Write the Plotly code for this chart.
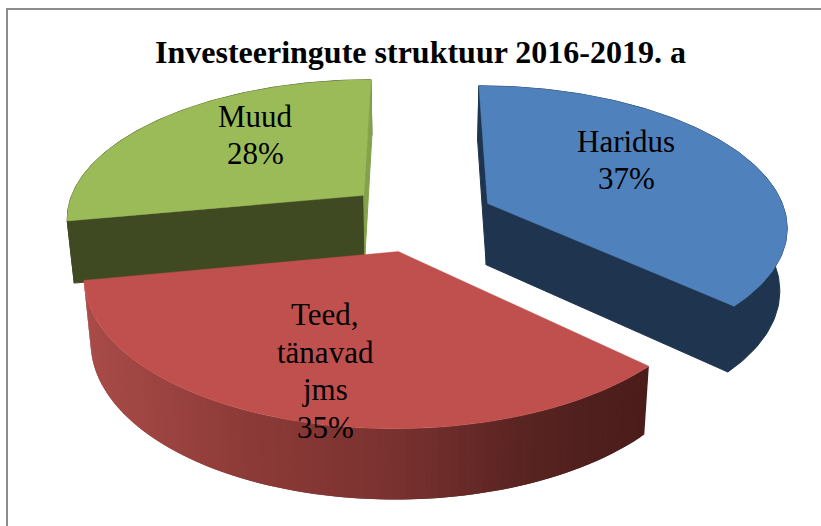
import numpy as np
import plotly.graph_objects as go

# --- data ---
categories = ["Haridus", "Teed,<br>tänavad<br>jms", "Muud"]
values = [37, 35, 28]
title_text = "Investeeringute struktuur 2016-2019. a"

# --- styles ---
top_colors = ["#4F81BD", "#C0504D", "#9BBB59"]
start_wall_colors = ["#1F344F", None, "#404A22"]
end_wall_colors = ["#1F344F", None, "#84A24A"]
rim_colors = ["#1F344F", None, "#404A22"]
red_rim_stops = [(90, (168, 75, 72)), (250, (140, 58, 55)), (390, (122, 50, 48)),
                 (520, (90, 36, 34)), (600, (78, 31, 29)), (650, (74, 28, 26))]
label_xy = [(626, 160), (325, 371), (255, 135)]
LINE_GAP = 37.5
FONT = "Liberation Serif, Times New Roman, serif"

# --- projection of the exploded, tilted pie ---
CX, CY, A, B, K = 420.0, 217.0, 299.0, 139.0, 0.15
EXPLODE, DEPTH, DEPTH_K, SHRINK = 0.25, 62.0, 0.10, 0.02


def project(X, Y, lower=False):
    Y = np.asarray(Y, dtype=float)
    w = 1 + K * Y
    sx = A * np.asarray(X, dtype=float) / w
    sy = -B * Y / w
    if lower:
        sx = sx * (1 - SHRINK)
        sy = sy + DEPTH / (1 + DEPTH_K * Y)
    return CX + sx, CY + sy


def poly(fig, xs, ys, color, width=1.0):
    fig.add_trace(go.Scatter(
        x=list(xs), y=list(ys), mode="lines", fill="toself", fillcolor=color,
        line=dict(color=color, width=width), hoverinfo="skip", showlegend=False))


def red_rim_color(x):
    xp = [s[0] for s in red_rim_stops]
    rgb = [np.interp(x, xp, [s[1][i] for s in red_rim_stops]) for i in range(3)]
    return "rgb(%d,%d,%d)" % tuple(int(round(c)) for c in rgb)


fig = go.Figure()
total = sum(values)
fractions = np.cumsum([0] + values) / total * 2 * np.pi

for i in [2, 0, 1]:
    t0, t1 = fractions[i], fractions[i + 1]
    mid = (t0 + t1) / 2
    ax, ay = EXPLODE * np.sin(mid), EXPLODE * np.cos(mid)
    t = np.linspace(t0, t1, 121)
    rx, ry = ax + np.sin(t), ay + np.cos(t)
    ux, uy = project(rx, ry)
    lx, ly = project(rx, ry, lower=True)

    # outer wall: one shape, or bands that overlap when it is shaded
    if rim_colors[i] is None:
        for j in range(len(t) - 1):
            k = min(j + 2, len(t) - 1)
            col = red_rim_color((ux[j] + ux[j + 1]) / 2)
            poly(fig, [*ux[j:k + 1], *lx[j:k + 1][::-1], ux[j]],
                 [*uy[j:k + 1], *ly[j:k + 1][::-1], uy[j]], col, width=0)
    else:
        poly(fig, [*ux, *lx[::-1], ux[0]], [*uy, *ly[::-1], uy[0]], rim_colors[i])

    # radial walls
    for end_t, col in ((t0, start_wall_colors[i]), (t1, end_wall_colors[i])):
        if col is None:
            continue
        ex, ey = ax + np.sin(end_t), ay + np.cos(end_t)
        X = np.array([ax, ex])
        Y = np.array([ay, ey])
        wx, wy = project(X, Y)
        vx, vy = project(X, Y, lower=True)
        poly(fig, [wx[0], wx[1], vx[1], vx[0], wx[0]], [wy[0], wy[1], vy[1], vy[0], wy[0]], col)

    # top face
    apx, apy = project(np.array([ax]), np.array([ay]))
    poly(fig, [apx[0], *ux, apx[0]], [apy[0], *uy, apy[0]], top_colors[i], width=0.5)

# --- labels ---
for cat, val, (lx_, ly_) in zip(categories, values, label_xy):
    lines = f"{cat}<br>{val}%".split("<br>")
    for n, line in enumerate(lines):
        fig.add_annotation(x=lx_, y=ly_ + (n - (len(lines) - 1) / 2) * LINE_GAP, text=line,
                           showarrow=False, xanchor="center", yanchor="middle",
                           font=dict(family=FONT, size=31, color="black"))

fig.add_annotation(x=420, y=52, text=f"<b>{title_text}</b>", showarrow=False,
                   xanchor="center", yanchor="middle",
                   font=dict(family=FONT, size=32, color="black"))

fig.update_layout(
    width=821, height=526, margin=dict(l=0, r=0, t=0, b=0),
    paper_bgcolor="white", plot_bgcolor="white", showlegend=False,
    xaxis=dict(range=[0, 821], visible=False, fixedrange=True),
    yaxis=dict(range=[526, 0], visible=False, fixedrange=True),
    shapes=[dict(type="rect", xref="x", yref="y", x0=7, y0=9, x1=840, y1=560,
                 line=dict(color="#8C8C8C", width=2), fillcolor="rgba(0,0,0,0)", layer="below")],
)
fig.write_html("out.html", post_script="document.body.style.margin='0';document.body.style.overflow='hidden';",
               config={"displayModeBar": False})
